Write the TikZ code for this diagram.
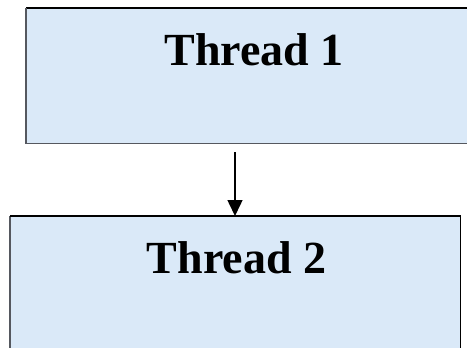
\documentclass[tikz,border=0pt]{standalone}
\usepackage{fontspec}
\setmainfont{Liberation Serif}
\usetikzlibrary{arrows.meta}
\definecolor{boxfill}{RGB}{218,233,248}
\definecolor{rimgray}{RGB}{85,88,95}
\tikzset{
  panel/.style={fill=boxfill, draw=none, inner sep=0pt, anchor=north west},
  rim/.style={draw=rimgray, line width=1.4pt},
  rimtop/.style={draw=black, line width=1.4pt},
  label/.style={anchor=base, inner sep=0pt, font=\fontsize{46}{50}\selectfont\bfseries},
  flow/.style={draw=black, line width=1.5pt, -{Triangle[length=16pt,width=15pt]}}
}
\begin{document}
\begin{tikzpicture}[x=1pt,y=-1pt]
  \useasboundingbox (0,0) rectangle (467,348);
  % upper panel, running off the right edge
  \node[panel, minimum width=441pt, minimum height=135pt] (box1) at (26,8) {};
  \draw[rimtop] (box1.north east) -- (box1.north west);
  \draw[rim] (box1.north west) -- (box1.south west) -- (box1.south east);
  \node[label] (t1) at (254,65) {Thread 1};
  % lower panel, running off the bottom edge
  \node[panel, minimum width=450pt, minimum height=132pt] (box2) at (10,216) {};
  \draw[rim] (box2.south west) -- (box2.north west);
  \draw[rimtop] (box2.north west) -- (box2.north east) -- (box2.south east);
  \node[label] (t2) at (236.5,273) {Thread 2};
  % connector
  \coordinate (a1) at (235,152);
  \draw[flow] (a1) -- (a1 |- box2.north);
\end{tikzpicture}
\end{document}
